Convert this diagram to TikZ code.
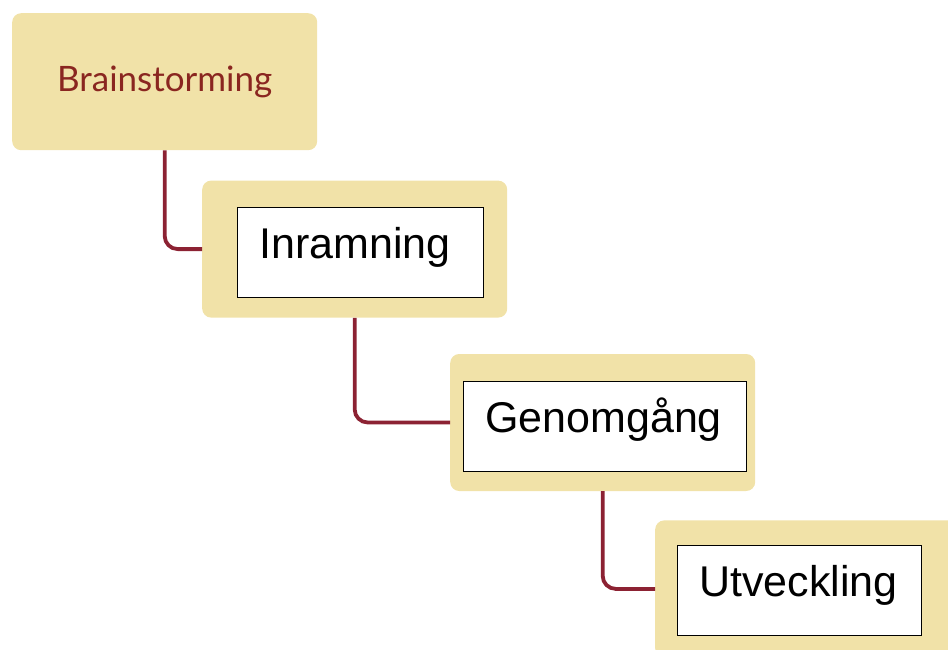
\documentclass[tikz,border=0pt]{standalone}
\usepackage{fontspec}
\setmainfont{Liberation Sans}
\newfontfamily\latofont{Lato}
\usetikzlibrary{positioning}
\definecolor{stagebg}{HTML}{F1E2A8}
\definecolor{linkred}{HTML}{8C2233}
\definecolor{titlered}{HTML}{8A2620}

\begin{document}
\begin{tikzpicture}[
    x=1pt, y=1pt,
    stage/.style={
        rectangle, rounded corners=9pt, fill=stagebg, draw=none,
        minimum width=305pt, minimum height=137pt, inner sep=0pt
    },
    inbox/.style={
        rectangle, draw=black, line width=1.1pt, fill=white,
        text width=#1, inner xsep=22pt, inner ysep=0pt,
        text height=51pt, text depth=39pt, align=left,
        font=\fontsize{43}{48}\selectfont
    },
    inbox/.default=202pt,
    link/.style={line width=3.8pt, linkred, rounded corners=13pt},
]
\clip (0,0) rectangle (948,-650);
\useasboundingbox (0,0) rectangle (948,-650);

% ===== Stage boxes =====
\node[stage, anchor=north west] (brain) at (12,-13)
    {\latofont\fontsize{35}{40}\selectfont\color{titlered}Brainstorming};
\node[stage, below right=30pt and 190pt of brain.south west] (frame) {};
\node[stage, below right=36pt and 248pt of frame.south west] (review) {};
\node[stage, below right=29pt and 205pt of review.south west] (develop) {};

% ===== White labels inside the stages =====
\node[inbox] (inr) at ([xshift=5.5pt, yshift=-3.5pt]frame.center) {Inramning};
\node[inbox=239pt] (gen) at ([xshift=2pt, yshift=-4pt]review.center) {Genomgång};
\node[inbox=200pt] (utv) at ([xshift=-8.5pt, yshift=-2pt]develop.center) {Utveckling};

% ===== Connectors =====
\draw[link] (brain.south) |- (frame.west);
\draw[link] (frame.south) |- (review.west);
\draw[link] (review.south) |- (develop.west);

\end{tikzpicture}
\end{document}
